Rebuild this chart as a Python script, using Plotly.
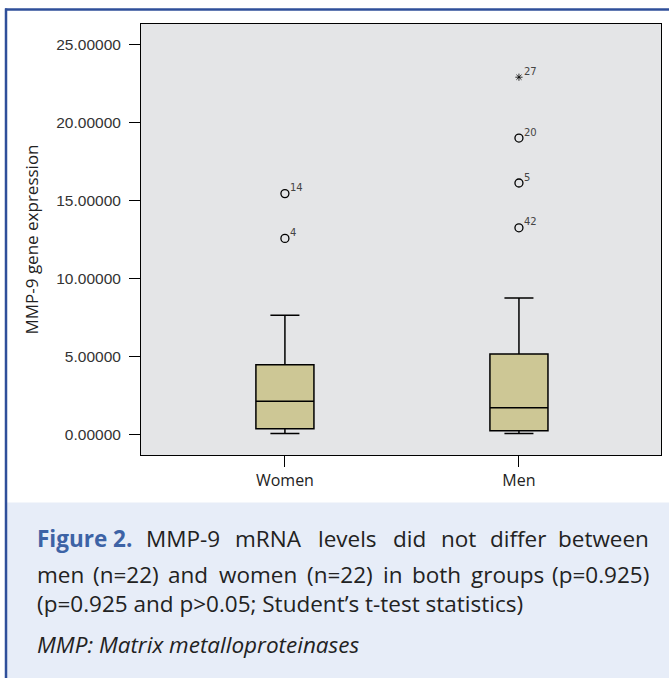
import plotly.graph_objects as go

# ---------------- data ----------------
groups = ["Women", "Men"]
q1 = [0.38, 0.24]
median = [2.13, 1.71]
q3 = [4.47, 5.16]
lower_whisker = [0.06, 0.06]
upper_whisker = [7.65, 8.75]

women_out_y = [15.44, 12.57]
women_out_lab = ["14", "4"]
men_out_y = [19.00, 16.12, 13.25]
men_out_lab = ["20", "5", "42"]
men_extreme_y = [22.90]
men_extreme_lab = ["27"]

y_ticks = [0, 5, 10, 15, 20, 25]
y_title = "MMP-9 gene expression"

caption_line1 = ["Figure 2.", "MMP-9", "mRNA", "levels", "did", "not", "differ", "between"]
caption_line2 = ["men", "(n=22)", "and", "women", "(n=22)", "in", "both", "groups", "(p=0.925)"]
caption_line3 = "(p=0.925 and p>0.05; Student\u2019s t-test statistics)"
caption_line4 = "MMP: Matrix metalloproteinases"

# approximate rendered word widths (px) used only to justify the caption lines
line1_widths = [95, 70, 66, 57, 32, 32, 51, 90]
line2_widths = [48, 66, 40, 80, 66, 20, 49, 74, 97]

# ---------------- layout geometry ----------------
W, H = 669, 679
L, R, T, B = 141, 661, 23.5, 455.5


def px(xp):
    return (xp - L) / (R - L)


def py(yp):
    return (B - yp) / (B - T)


BOX_FILL = "#cdc795"
PLOT_BG = "#e4e5e7"
BLUE = "#2f4f9a"
CAP_BG = "#e7edf8"
FIG_BLUE = "#3d63a6"

fig = go.Figure()

fig.add_trace(go.Box(
    x=groups, q1=q1, median=median, q3=q3,
    lowerfence=lower_whisker, upperfence=upper_whisker,
    fillcolor=BOX_FILL, line=dict(color="black", width=1.5),
    whiskerwidth=0.5, width=0.248, boxpoints=False, showlegend=False,
    hoverinfo="skip",
))

fig.add_trace(go.Scatter(
    x=["Women"] * len(women_out_y), y=women_out_y, mode="markers",
    marker=dict(symbol="circle-open", size=8, color="black", line=dict(width=1.3)),
    showlegend=False, hoverinfo="skip",
))
fig.add_trace(go.Scatter(
    x=["Men"] * len(men_out_y), y=men_out_y, mode="markers",
    marker=dict(symbol="circle-open", size=8, color="black", line=dict(width=1.3)),
    showlegend=False, hoverinfo="skip",
))
fig.add_trace(go.Scatter(
    x=["Men"] * len(men_extreme_y), y=men_extreme_y, mode="markers",
    marker=dict(symbol="asterisk-open", size=6, color="black", line=dict(width=0.8, color="black")),
    showlegend=False, hoverinfo="skip",
))

annotations = []
label_font = dict(family="DejaVu Sans", size=10, color="#444444")
for grp, ys, labs in [("Women", women_out_y, women_out_lab),
                      ("Men", men_out_y, men_out_lab),
                      ("Men", men_extreme_y, men_extreme_lab)]:
    for yv, lb in zip(ys, labs):
        annotations.append(dict(x=grp, y=yv, xref="x", yref="y", text=lb, showarrow=False,
                                xanchor="left", yanchor="middle", xshift=3, yshift=6,
                                font=label_font))

# ---------------- decorations ----------------
shapes = [
    dict(type="rect", xref="paper", yref="paper", x0=px(6), x1=px(669), y0=py(503), y1=py(679),
         fillcolor=CAP_BG, line=dict(width=0), layer="below"),
    dict(type="line", xref="paper", yref="paper", x0=px(5), x1=px(669), y0=py(9), y1=py(9),
         line=dict(color=BLUE, width=2.5)),
    dict(type="line", xref="paper", yref="paper", x0=px(6), x1=px(6), y0=py(8), y1=py(679),
         line=dict(color=BLUE, width=2.5)),
]

CAP_FAMILY = "Open Sans"
CAP_SIZE = 22.5
cap_font = dict(family=CAP_FAMILY, size=CAP_SIZE, color="#222222")
TEXT_L, TEXT_R = 35, 651


def justify(words, widths, ypix, first_style=None):
    gap = (TEXT_R - TEXT_L - sum(widths)) / (len(words) - 1)
    x = TEXT_L
    for i, (w, wd) in enumerate(zip(words, widths)):
        f = dict(cap_font)
        txt = w
        if i == 0 and first_style is not None:
            f = dict(family=CAP_FAMILY, size=CAP_SIZE, color=first_style)
            txt = "<b>" + w + "</b>"
        if i == 0:
            xa, anc = x, "left"
        elif i == len(words) - 1:
            xa, anc = TEXT_R, "right"
        else:
            xa, anc = x + wd / 2, "center"
        annotations.append(dict(xref="paper", yref="paper", x=px(xa), y=py(ypix), text=txt,
                                xanchor=anc, yanchor="middle", showarrow=False, font=f))
        x += wd + gap


justify(caption_line1, line1_widths, 539, first_style=FIG_BLUE)
justify(caption_line2, line2_widths, 575)

annotations.append(dict(xref="paper", yref="paper", x=px(TEXT_L), y=py(604), text=caption_line3,
                        xanchor="left", yanchor="middle", showarrow=False, font=cap_font))
annotations.append(dict(xref="paper", yref="paper", x=px(TEXT_L), y=py(645),
                        text="<i>" + caption_line4 + "</i>",
                        xanchor="left", yanchor="middle", showarrow=False, font=cap_font))

fig.update_layout(
    width=W, height=H,
    margin=dict(l=L, r=W - R, t=T, b=H - B, pad=0),
    paper_bgcolor="white", plot_bgcolor=PLOT_BG,
    shapes=shapes, annotations=annotations,
    showlegend=False,
)

fig.update_xaxes(
    type="category", categoryorder="array", categoryarray=groups,
    range=[-0.615, 1.607],
    showline=True, mirror=True, linecolor="black", linewidth=1,
    ticks="outside", ticklen=11, tickcolor="black", tickwidth=1,
    showgrid=False, zeroline=False,
    tickfont=dict(family="Open Sans", size=16, color="#222222"),
)
fig.update_yaxes(
    range=[-1.31, 26.31], tickvals=y_ticks, tickformat=".5f",
    showline=True, mirror=True, linecolor="black", linewidth=1,
    ticks="outside", ticklen=11, tickcolor="black", tickwidth=1,
    ticklabelstandoff=5,
    showgrid=False, zeroline=False,
    tickfont=dict(family="Liberation Sans", size=15.5, color="#333333"),
    title=dict(text=y_title, font=dict(family="Open Sans", size=17, color="#222222"), standoff=13),
)

fig.write_html("out.html", config={"displayModeBar": False},
               post_script="document.body.style.margin='0';")
